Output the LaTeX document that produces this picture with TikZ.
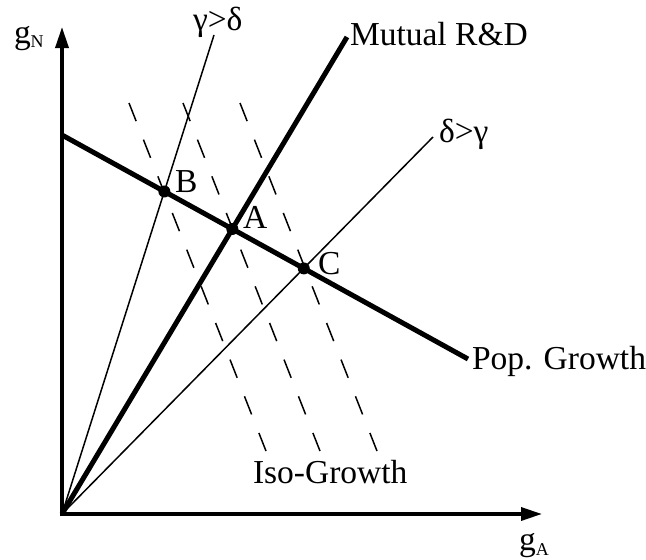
\documentclass[tikz,border=0pt]{standalone}
\usepackage{fontspec}
\setmainfont{Liberation Serif}
\usetikzlibrary{arrows.meta}
\begin{document}
\begin{tikzpicture}[x=1pt,y=-1pt,
  lbl/.style={inner sep=0pt, outer sep=0pt, anchor=base west, font=\fontsize{33.5}{38}\selectfont},
  axis/.style={line width=3.4pt, {Triangle[length=21pt,width=13pt]}-{Triangle[length=21pt,width=13pt]}},
  thickline/.style={line width=5pt},
  thinline/.style={line width=1.5pt},
  isoline/.style={line width=1.5pt, dash pattern=on 19.5pt off 19.9pt},
  dot/.style={circle, fill=black, inner sep=0pt, minimum size=12pt}]
\useasboundingbox (0,0) rectangle (646,560);
% key coordinates
\coordinate (O) at (62,514);
\coordinate (ytip) at (62,27);
\coordinate (xtip) at (542,514);
\coordinate (gdEnd) at (214,35);
\coordinate (mrdEnd) at (347,37);
\coordinate (dgEnd) at (433,137);
\coordinate (popL) at (62,135);
\coordinate (popR) at (468,359);
\coordinate (i1a) at (129,103); \coordinate (i1b) at (266,451);
\coordinate (i2a) at (183,103); \coordinate (i2b) at (320,451);
\coordinate (i3a) at (240,103); \coordinate (i3b) at (377,451);
% iso-growth lines
\draw[isoline] (i1a) -- (i1b);
\draw[isoline] (i2a) -- (i2b);
\draw[isoline] (i3a) -- (i3b);
% rays
\draw[thinline] (O) -- (gdEnd);
\draw[thinline] (O) -- (dgEnd);
\draw[thickline] (O) -- (mrdEnd);
\draw[thickline] (popL) -- (popR);
% axes
\draw[axis] (ytip) -- (O) -- (xtip);
% points
\node[dot] (B) at (intersection of O--gdEnd and popL--popR) {};
\node[dot] (A) at (intersection of O--mrdEnd and popL--popR) {};
\node[dot] (C) at (intersection of O--dgEnd and popL--popR) {};
% labels
\node[lbl] (labB) at (175,192) {B};
\node[lbl] (labA) at (243,228) {A};
\node[lbl] (labC) at (318,274) {C};
\node[lbl] (labMRD) at (350,45) {Mutual R\&D};
\node[lbl] (labGD) at (193,30) {γ>δ};
\node[lbl] (labDG) at (439,142) {δ>γ};
\node[lbl] (labPop) at (472,369) {Pop. Growth};
\node[lbl] (labIso) at (253,483) {Iso-Growth};
\node[lbl] (labGN) at (14,43) {g\raisebox{-4pt}{\fontsize{18}{18}\selectfont N}};
\node[lbl] (labGA) at (519,550) {g\raisebox{-5pt}{\fontsize{18}{18}\selectfont A}};
\end{tikzpicture}
\end{document}
